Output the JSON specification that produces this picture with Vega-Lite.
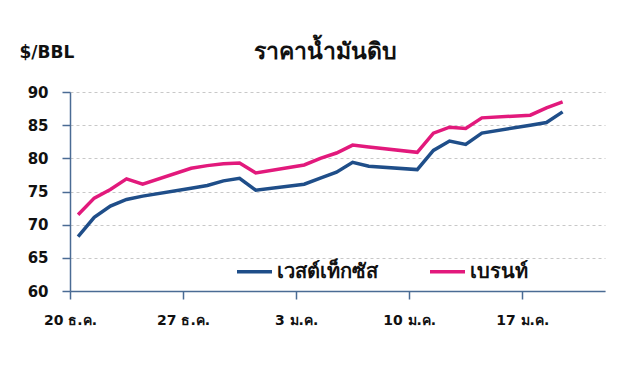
{
  "$schema": "https://vega.github.io/schema/vega-lite/v6.json",
  "width": 535,
  "height": 199,
  "autosize": {"type": "none"},
  "padding": {"left": 70, "top": 92, "right": 18, "bottom": 74},
  "background": "white",
  "title": {
    "text": "ราคาน้ำมันดิบ",
    "anchor": "middle",
    "dx": -12,
    "offset": -21,
    "font": "DejaVu Sans",
    "fontSize": 23,
    "fontWeight": "bold",
    "color": "#111111"
  },
  "config": {
    "view": {"stroke": null},
    "font": "DejaVu Sans"
  },
  "data": {
    "values": [
      {"date": "2021-12-20T12:00:00Z", "series": "เวสต์เท็กซัส", "price": 68.2},
      {"date": "2021-12-21T12:00:00Z", "series": "เวสต์เท็กซัส", "price": 71.1},
      {"date": "2021-12-22T12:00:00Z", "series": "เวสต์เท็กซัส", "price": 72.8},
      {"date": "2021-12-23T12:00:00Z", "series": "เวสต์เท็กซัส", "price": 73.8},
      {"date": "2021-12-24T12:00:00Z", "series": "เวสต์เท็กซัส", "price": 74.3},
      {"date": "2021-12-27T12:00:00Z", "series": "เวสต์เท็กซัส", "price": 75.5},
      {"date": "2021-12-28T12:00:00Z", "series": "เวสต์เท็กซัส", "price": 75.9},
      {"date": "2021-12-29T12:00:00Z", "series": "เวสต์เท็กซัส", "price": 76.6},
      {"date": "2021-12-30T12:00:00Z", "series": "เวสต์เท็กซัส", "price": 77.0},
      {"date": "2021-12-31T12:00:00Z", "series": "เวสต์เท็กซัส", "price": 75.2},
      {"date": "2022-01-03T12:00:00Z", "series": "เวสต์เท็กซัส", "price": 76.1},
      {"date": "2022-01-04T12:00:00Z", "series": "เวสต์เท็กซัส", "price": 77.0},
      {"date": "2022-01-05T12:00:00Z", "series": "เวสต์เท็กซัส", "price": 77.9},
      {"date": "2022-01-06T12:00:00Z", "series": "เวสต์เท็กซัส", "price": 79.4},
      {"date": "2022-01-07T12:00:00Z", "series": "เวสต์เท็กซัส", "price": 78.8},
      {"date": "2022-01-10T12:00:00Z", "series": "เวสต์เท็กซัส", "price": 78.3},
      {"date": "2022-01-11T12:00:00Z", "series": "เวสต์เท็กซัส", "price": 81.2},
      {"date": "2022-01-12T12:00:00Z", "series": "เวสต์เท็กซัส", "price": 82.6},
      {"date": "2022-01-13T12:00:00Z", "series": "เวสต์เท็กซัส", "price": 82.1},
      {"date": "2022-01-14T12:00:00Z", "series": "เวสต์เท็กซัส", "price": 83.8},
      {"date": "2022-01-17T12:00:00Z", "series": "เวสต์เท็กซัส", "price": 85.0},
      {"date": "2022-01-18T12:00:00Z", "series": "เวสต์เท็กซัส", "price": 85.4},
      {"date": "2022-01-19T12:00:00Z", "series": "เวสต์เท็กซัส", "price": 87.0},
      {"date": "2021-12-20T12:00:00Z", "series": "เบรนท์", "price": 71.5},
      {"date": "2021-12-21T12:00:00Z", "series": "เบรนท์", "price": 74.0},
      {"date": "2021-12-22T12:00:00Z", "series": "เบรนท์", "price": 75.3},
      {"date": "2021-12-23T12:00:00Z", "series": "เบรนท์", "price": 76.9},
      {"date": "2021-12-24T12:00:00Z", "series": "เบรนท์", "price": 76.1},
      {"date": "2021-12-27T12:00:00Z", "series": "เบรนท์", "price": 78.5},
      {"date": "2021-12-28T12:00:00Z", "series": "เบรนท์", "price": 78.9},
      {"date": "2021-12-29T12:00:00Z", "series": "เบรนท์", "price": 79.2},
      {"date": "2021-12-30T12:00:00Z", "series": "เบรนท์", "price": 79.3},
      {"date": "2021-12-31T12:00:00Z", "series": "เบรนท์", "price": 77.8},
      {"date": "2022-01-03T12:00:00Z", "series": "เบรนท์", "price": 79.0},
      {"date": "2022-01-04T12:00:00Z", "series": "เบรนท์", "price": 80.0},
      {"date": "2022-01-05T12:00:00Z", "series": "เบรนท์", "price": 80.8},
      {"date": "2022-01-06T12:00:00Z", "series": "เบรนท์", "price": 82.0},
      {"date": "2022-01-07T12:00:00Z", "series": "เบรนท์", "price": 81.7},
      {"date": "2022-01-10T12:00:00Z", "series": "เบรนท์", "price": 80.9},
      {"date": "2022-01-11T12:00:00Z", "series": "เบรนท์", "price": 83.8},
      {"date": "2022-01-12T12:00:00Z", "series": "เบรนท์", "price": 84.7},
      {"date": "2022-01-13T12:00:00Z", "series": "เบรนท์", "price": 84.5},
      {"date": "2022-01-14T12:00:00Z", "series": "เบรนท์", "price": 86.1},
      {"date": "2022-01-17T12:00:00Z", "series": "เบรนท์", "price": 86.5},
      {"date": "2022-01-18T12:00:00Z", "series": "เบรนท์", "price": 87.6},
      {"date": "2022-01-19T12:00:00Z", "series": "เบรนท์", "price": 88.5}
    ]
  },
  "mark": {"type": "line", "strokeWidth": 3.5, "strokeJoin": "miter", "strokeCap": "butt"},
  "encoding": {
    "x": {
      "field": "date",
      "type": "temporal",
      "scale": {
        "type": "utc",
        "domain": [
          {"year": 2021, "month": 12, "date": 20, "utc": true},
          {"year": 2022, "month": 1, "date": 22, "hours": 3, "utc": true}
        ]
      },
      "axis": {
        "title": null,
        "grid": false,
        "values": [
          {"year": 2021, "month": 12, "date": 20, "utc": true},
          {"year": 2021, "month": 12, "date": 27, "utc": true},
          {"year": 2022, "month": 1, "date": 3, "utc": true},
          {"year": 2022, "month": 1, "date": 10, "utc": true},
          {"year": 2022, "month": 1, "date": 17, "utc": true}
        ],
        "labelExpr": "utcdate(datum.value) + (utcmonth(datum.value) == 11 ? ' ธ.ค.' : ' ม.ค.')",
        "labelDx": 8,
        "labelPadding": 14,
        "labelFontSize": 14,
        "labelFontWeight": "bold",
        "labelColor": "#111111",
        "labelFlush": false,
        "labelOverlap": false,
        "domainColor": "#4a6b94",
        "domainWidth": 1.5,
        "tickColor": "#4a6b94",
        "tickWidth": 1.5,
        "tickSize": 8
      }
    },
    "y": {
      "field": "price",
      "type": "quantitative",
      "scale": {"domain": [60, 90], "nice": false, "zero": false},
      "axis": {
        "values": [60, 65, 70, 75, 80, 85, 90],
        "title": "$/BBL",
        "titleAngle": 0,
        "titleX": -51,
        "titleY": -40,
        "titleAlign": "left",
        "titleBaseline": "middle",
        "titleFontSize": 17,
        "titleFontWeight": "bold",
        "titleColor": "#111111",
        "labelFontSize": 15,
        "labelFontWeight": "bold",
        "labelColor": "#111111",
        "labelPadding": 14,
        "grid": true,
        "gridColor": "#c8c8c8",
        "gridDash": [3, 3],
        "gridWidth": 1,
        "domainColor": "#4a6b94",
        "domainWidth": 1.5,
        "tickColor": "#4a6b94",
        "tickWidth": 1.5,
        "tickSize": 8
      }
    },
    "color": {
      "field": "series",
      "type": "nominal",
      "scale": {"domain": ["เวสต์เท็กซัส", "เบรนท์"], "range": ["#1f4e89", "#e2197c"]},
      "legend": {
        "title": null,
        "orient": "none",
        "direction": "horizontal",
        "legendX": 165,
        "legendY": 160,
        "symbolType": "stroke",
        "symbolSize": 1225,
        "symbolStrokeWidth": 3.5,
        "labelFontSize": 20,
        "labelFontWeight": "bold",
        "labelColor": "#111111",
        "labelOffset": 3,
        "columnPadding": 45
      }
    }
  }
}
